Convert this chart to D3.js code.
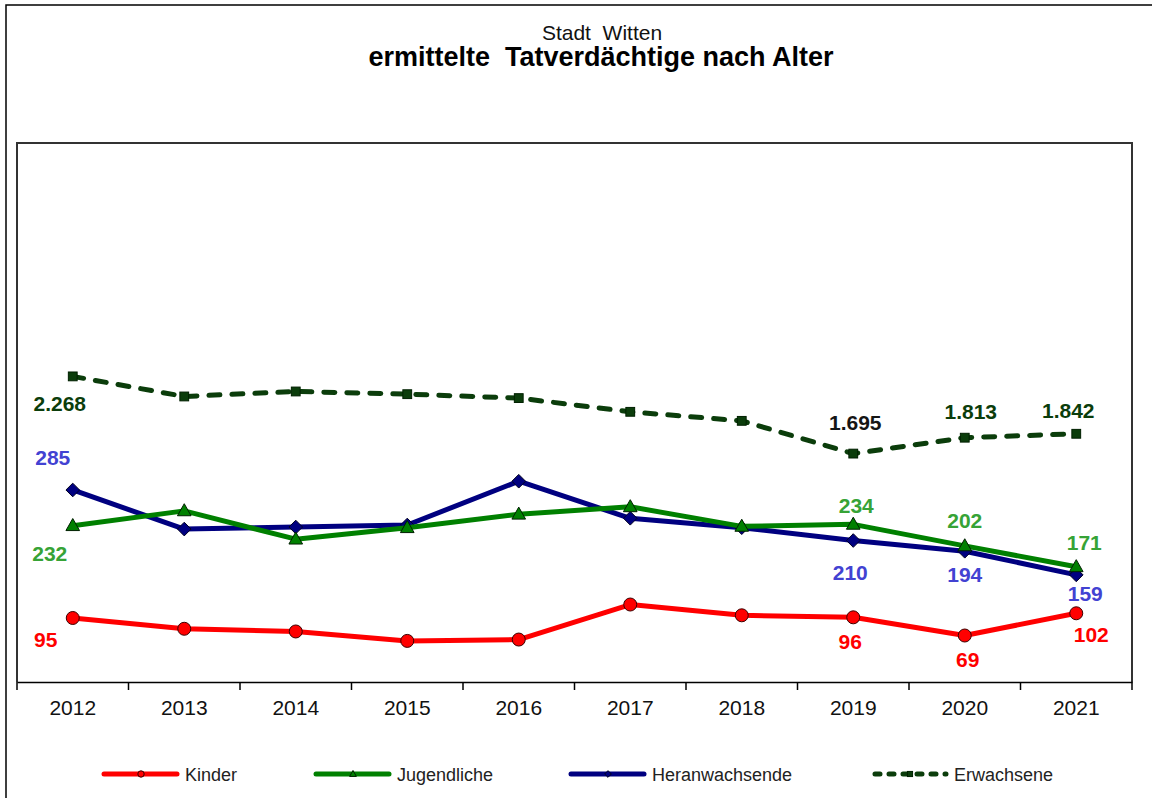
<!DOCTYPE html>
<html>
<head>
<meta charset="utf-8">
<script src="https://cdn.jsdelivr.net/npm/d3@7"></script>
<style>
  html, body { margin: 0; padding: 0; background: #fff; }
  svg { display: block; font-family: "Liberation Sans", Arial, sans-serif; }
  .pre { white-space: pre; }
</style>
</head>
<body>
<svg id="chart" width="1152" height="798"></svg>
<script>
// Jahre (Kategorien der x-Achse)
const years = ["2012", "2013", "2014", "2015", "2016", "2017", "2018", "2019", "2020", "2021"];

// Tatverdächtige je Altersgruppe
const kinder          = [95, 79, 75, 61, 63, 115, 99, 96, 69, 102];
const jugendliche     = [232, 254, 212, 229, 249, 260, 231, 234, 202, 171];
const heranwachsende  = [285, 227, 230, 233, 298, 243, 229, 210, 194, 159];
const erwachsene      = [2268, 2119, 2156, 2136, 2107, 2005, 1938, 1695, 1813, 1842];

// Beschriftete Jahre je Reihe
const labelYears = ["2012", "2019", "2020", "2021"];

const seriesNames = ["Kinder", "Jugendliche", "Heranwachsende", "Erwachsene"];

const svg = d3.select("#chart");
const W = 1152, H = 798;

// Rahmen des Diagrammbereichs
svg.append("rect")
  .attr("x", 6).attr("y", 5).attr("width", W + 20).attr("height", H + 20)
  .attr("fill", "#fff").attr("stroke", "#000").attr("stroke-width", 1.5);

// Titel
svg.append("text")
  .attr("class", "pre")
  .attr("x", 602).attr("y", 40).attr("text-anchor", "middle")
  .attr("font-size", 21).attr("fill", "#111")
  .text("Stadt  Witten");
svg.append("text")
  .attr("class", "pre")
  .attr("x", 601).attr("y", 66).attr("text-anchor", "middle")
  .attr("font-size", 27).attr("font-weight", "bold").attr("fill", "#000")
  .text("ermittelte  Tatverdächtige nach Alter");

// Zeichenfläche
const plot = { left: 17, right: 1132, top: 143, bottom: 682 };

const x = d3.scaleBand().domain(years).range([plot.left, plot.right]).padding(0);
const y = d3.scaleLinear().domain([0, 800]).range([plot.bottom, plot.top]);      // Primärachse
const y2 = d3.scaleLinear().domain([0, 4000]).range([plot.bottom, plot.top]);    // Sekundärachse (Erwachsene)
const cx = d => x(d) + x.bandwidth() / 2;

// Rahmen der Zeichenfläche (links, oben, rechts)
svg.append("path")
  .attr("d", `M${plot.left},${plot.bottom} V${plot.top} H${plot.right} V${plot.bottom}`)
  .attr("fill", "none").attr("stroke", "#333").attr("stroke-width", 2);

// x-Achse
const xAxis = d3.axisBottom(x).tickSize(0).tickPadding(0);
const gx = svg.append("g").attr("transform", `translate(0,${plot.bottom})`).call(xAxis);
gx.select(".domain").attr("stroke", "#000").attr("stroke-width", 1.5);
gx.selectAll(".tick text")
  .attr("font-family", "Liberation Sans, Arial, sans-serif")
  .attr("font-size", 21).attr("fill", "#111").attr("dy", null).attr("y", 33);
// Teilstriche zwischen den Kategorien
const boundaries = years.map(d => x(d)).concat([x(years[years.length - 1]) + x.bandwidth()]);
gx.selectAll("line.sep").data(boundaries).join("line")
  .attr("class", "sep")
  .attr("x1", d => d).attr("x2", d => d).attr("y1", 0).attr("y2", 8)
  .attr("stroke", "#000").attr("stroke-width", 1.5);

// Marker-Symbole
function marker(sel, type, size) {
  const s = size;
  if (type === "circle") {
    sel.append("circle").attr("r", s);
  } else if (type === "triangle") {
    sel.append("path").attr("d", `M0,${-s * 1.1} L${s * 1.05},${s * 0.75} L${-s * 1.05},${s * 0.75} Z`);
  } else if (type === "diamond") {
    sel.append("path").attr("d", `M0,${-s * 1.05} L${s * 1.05},0 L0,${s * 1.05} L${-s * 1.05},0 Z`);
  } else if (type === "square") {
    sel.append("rect").attr("x", -s * 0.8).attr("y", -s * 0.8).attr("width", s * 1.6).attr("height", s * 1.6);
  }
}

const series = [
  { name: "Kinder", values: kinder, scale: y, color: "#ff0000", fill: "#ff0000", mstroke: "#3a0000",
    type: "circle", dash: null, labelColor: "#ff0000" },
  { name: "Jugendliche", values: jugendliche, scale: y, color: "#008000", fill: "#008000", mstroke: "#002000",
    type: "triangle", dash: null, labelColor: "#36a336" },
  { name: "Heranwachsende", values: heranwachsende, scale: y, color: "#000080", fill: "#000080", mstroke: "#000020",
    type: "diamond", dash: null, labelColor: "#4242d2" },
  { name: "Erwachsene", values: erwachsene, scale: y2, color: "#0b3d0b", fill: "#0b3d0b", mstroke: "#002000",
    type: "square", dash: "11,12", labelColor: "#0b3d0b" }
];

// Lage der Datenbeschriftungen relativ zum Punkt (Textmitte)
const labelOffsets = {
  "Erwachsene":     { "2012": [-13, 27], "2019": [2, -31], "2020": [6, -26], "2021": [-8, -23] },
  "Heranwachsende": { "2012": [-20, -33], "2019": [-3, 32], "2020": [0, 23], "2021": [9, 19] },
  "Jugendliche":    { "2012": [-23, 28], "2019": [3, -19], "2020": [0, -25], "2021": [8, -24] },
  "Kinder":         { "2012": [-27, 21], "2019": [-3, 24], "2020": [3, 24], "2021": [15, 21] }
};
const labelColorOverride = { "Erwachsene-2019": "#151515" };

const fmt = d3.formatLocale({ decimal: ",", thousands: ".", grouping: [3], currency: ["", " €"] }).format(",d");

// Zeichenreihenfolge: Erwachsene, Kinder, Heranwachsende, Jugendliche
const drawOrder = ["Erwachsene", "Kinder", "Heranwachsende", "Jugendliche"];
drawOrder.forEach(name => {
  const s = series.find(d => d.name === name);
  const pts = years.map((yr, i) => ({ yr, v: s.values[i] }));
  const line = d3.line().x(d => cx(d.yr)).y(d => s.scale(d.v));
  svg.append("path").datum(pts)
    .attr("d", line)
    .attr("fill", "none")
    .attr("stroke", s.color)
    .attr("stroke-width", 5)
    .attr("stroke-linejoin", "round")
    .attr("stroke-linecap", s.dash ? "round" : "butt")
    .attr("stroke-dasharray", s.dash);
  const g = svg.append("g");
  pts.forEach(p => {
    const m = g.append("g").attr("transform", `translate(${cx(p.yr)},${s.scale(p.v)})`);
    marker(m, s.type, s.type === "square" ? 5.5 : 6.5);
    m.selectAll("*").attr("fill", s.fill).attr("stroke", s.mstroke).attr("stroke-width", 1);
  });
});

// Datenbeschriftungen
series.forEach(s => {
  labelYears.forEach(yr => {
    const i = years.indexOf(yr);
    const v = s.values[i];
    const off = labelOffsets[s.name][yr];
    svg.append("text")
      .attr("x", cx(yr) + off[0])
      .attr("y", s.scale(v) + off[1])
      .attr("dy", "0.36em")
      .attr("text-anchor", "middle")
      .attr("font-size", 21).attr("font-weight", "bold")
      .attr("fill", labelColorOverride[s.name + "-" + yr] || s.labelColor)
      .text(fmt(v));
  });
});

// Legende
const legendX = [104, 316, 571, 873];
const legend = svg.append("g");
series.forEach((s, i) => {
  const lx = legendX[i], ly = 774;
  const g = legend.append("g");
  g.append("line")
    .attr("x1", lx + (s.dash ? 2 : 0)).attr("x2", lx + 73).attr("y1", ly).attr("y2", ly)
    .attr("stroke", s.color).attr("stroke-width", 5)
    .attr("stroke-linecap", "round")
    .attr("stroke-dasharray", s.dash ? "5,9" : null);
  const m = g.append("g").attr("transform", `translate(${lx + 37},${ly})`);
  marker(m, s.type, 3.2);
  m.selectAll("*").attr("fill", s.fill).attr("stroke", s.mstroke).attr("stroke-width", 1);
  g.append("text")
    .attr("x", lx + 81).attr("y", ly + 6.5)
    .attr("font-size", 18).attr("fill", "#222")
    .text(s.name);
});
</script>
</body>
</html>
